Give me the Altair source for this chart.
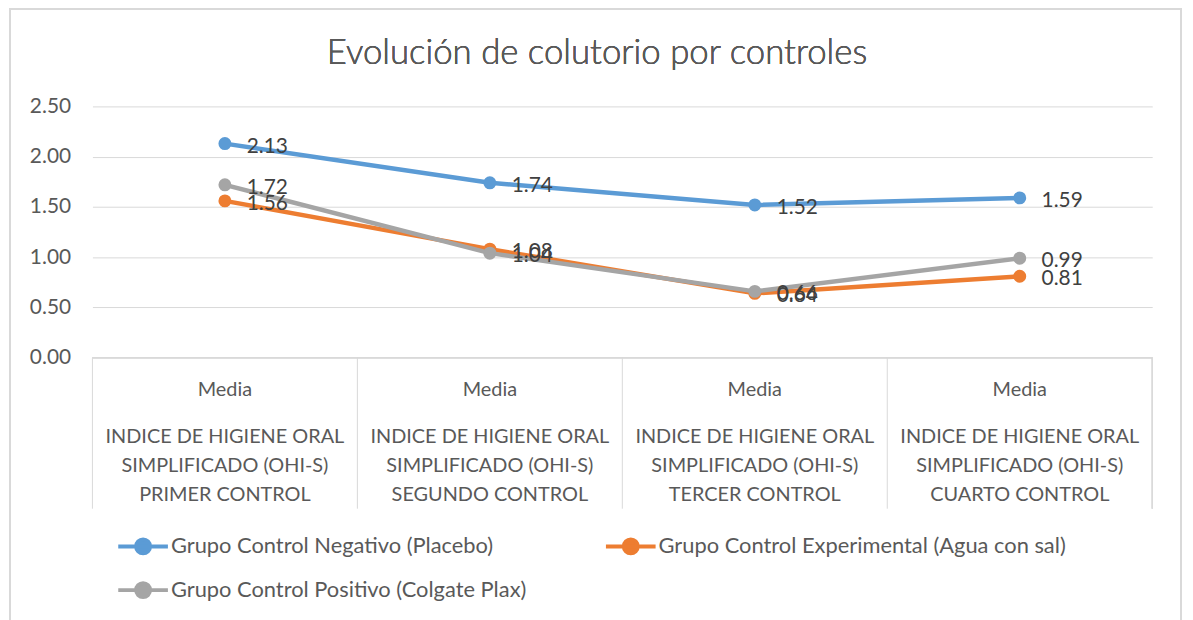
import altair as alt
import pandas as pd

controls = ["PRIMER CONTROL", "SEGUNDO CONTROL", "TERCER CONTROL", "CUARTO CONTROL"]
cat_lines = [
    "INDICE DE HIGIENE ORAL\nSIMPLIFICADO (OHI-S)\nPRIMER CONTROL",
    "INDICE DE HIGIENE ORAL\nSIMPLIFICADO (OHI-S)\nSEGUNDO CONTROL",
    "INDICE DE HIGIENE ORAL\nSIMPLIFICADO (OHI-S)\nTERCER CONTROL",
    "INDICE DE HIGIENE ORAL\nSIMPLIFICADO (OHI-S)\nCUARTO CONTROL",
]
stat_label = ["Media", "Media", "Media", "Media"]
series = [
    "Grupo Control Negativo (Placebo)",
    "Grupo Control Experimental  (Agua con sal)",
    "Grupo Control Positivo (Colgate Plax)",
]
negativo = [2.13, 1.74, 1.52, 1.59]
experimental = [1.56, 1.08, 0.64, 0.81]
positivo = [1.72, 1.04, 0.66, 0.99]
colors = ["#5B9BD5", "#ED7D31", "#A5A5A5"]

rows = []
for s_i, (name, vals) in enumerate(zip(series, [negativo, experimental, positivo])):
    for c, v in zip(controls, vals):
        rows.append({"serie": name, "control": c, "valor": v, "orden": s_i})
df = pd.DataFrame(rows)
cats = pd.DataFrame({"control": controls, "stat": stat_label, "label": cat_lines})

# legend is filled column by column: Negativo, Positivo | Experimental
legend_order = [series[0], series[2], series[1]]
legend_colors = [colors[0], colors[2], colors[1]]

W, H = 1067, 253
FONT = "Lato"
TXT = "#595959"

x = alt.X("control:N", sort=controls, scale=alt.Scale(paddingInner=0, paddingOuter=0), axis=None)
y = alt.Y(
    "valor:Q",
    scale=alt.Scale(domain=[0, 2.5], nice=False),
    axis=alt.Axis(
        values=[0, 0.5, 1, 1.5, 2, 2.5], format=".2f", title=None, domain=False, ticks=False,
        labelPadding=22, labelFontSize=21, labelColor=TXT, labelFont=FONT,
        gridColor="#D9D9D9", gridWidth=1,
    ),
)
color_scale = alt.Scale(domain=legend_order, range=legend_colors)
color = alt.Color(
    "serie:N",
    scale=color_scale,
    legend=alt.Legend(
        title=None, orient="none", legendX=24, legendY=416, columns=2, columnPadding=72,
        rowPadding=2, labelFontSize=22, labelColor=TXT, labelFont=FONT,
        symbolType="M-1,0H1M-0.28,0A0.28,0.28,0,1,0,0.28,0A0.28,0.28,0,1,0,-0.28,0Z",
        symbolSize=2500, symbolStrokeWidth=4, labelOffset=1, labelLimit=700,
    ),
)
color_nl = alt.Color("serie:N", scale=color_scale, legend=None)

layers_series = []
for i, name in enumerate(series):
    b = alt.Chart(df).transform_filter(alt.datum.serie == name)
    layers_series.append(b.mark_line(strokeWidth=4.5).encode(x=x, y=y, color=color if i == 0 else color_nl))
    layers_series.append(b.mark_circle(size=170, opacity=1).encode(x=x, y=y, color=color_nl))

labels = alt.Chart(df).mark_text(align="left", baseline="middle", dx=22, dy=3, fontSize=21, color="#404040", font=FONT).encode(
    x=x, y=alt.Y("valor:Q"), text=alt.Text("valor:Q", format=".2f")
)

cbase = alt.Chart(cats)
seps = cbase.mark_rule(color="#D9D9D9", strokeWidth=1).encode(
    x=alt.X("control:N", sort=controls, bandPosition=0, scale=alt.Scale(paddingInner=0, paddingOuter=0), axis=None),
    y=alt.value(H), y2=alt.value(H + 152),
)
sep_end = cbase.mark_rule(color="#D9D9D9", strokeWidth=1).encode(x=alt.value(W), y=alt.value(H), y2=alt.value(H + 152))
baseline = cbase.mark_rule(color="#D9D9D9", strokeWidth=1).encode(x=alt.value(0), x2=alt.value(W), y=alt.value(H))
stat_txt = cbase.mark_text(fontSize=20, color=TXT, font=FONT, baseline="middle").encode(
    x=x, y=alt.value(H + 33), text="stat:N"
)
cat_txt = cbase.mark_text(fontSize=20, color=TXT, font=FONT, baseline="middle", lineBreak="\n", lineHeight=29).encode(
    x=x, y=alt.value(H + 80), text="label:N"
)
title = cbase.mark_text(fontSize=35, fontWeight=300, color=TXT, font=FONT, baseline="middle").encode(
    x=alt.value(508), y=alt.value(-54), text=alt.value("Evolución de colutorio por controles")
)
border = cbase.mark_rect(fill=None, stroke="#D9D9D9", strokeWidth=2).encode(
    x=alt.value(-83), x2=alt.value(1096), y=alt.value(-98), y2=alt.value(540)
)

chart = alt.layer(
    border, baseline, seps, sep_end, stat_txt, cat_txt, title, *layers_series, labels
).resolve_scale(color="shared").properties(
    width=W, height=H,
    autosize=alt.AutoSizeParams(type="none"),
    padding={"left": 85, "top": 97, "right": 33, "bottom": 262},
).configure_view(stroke=None)

chart.save("out.html", embed_options={"renderer": "svg", "actions": False})
